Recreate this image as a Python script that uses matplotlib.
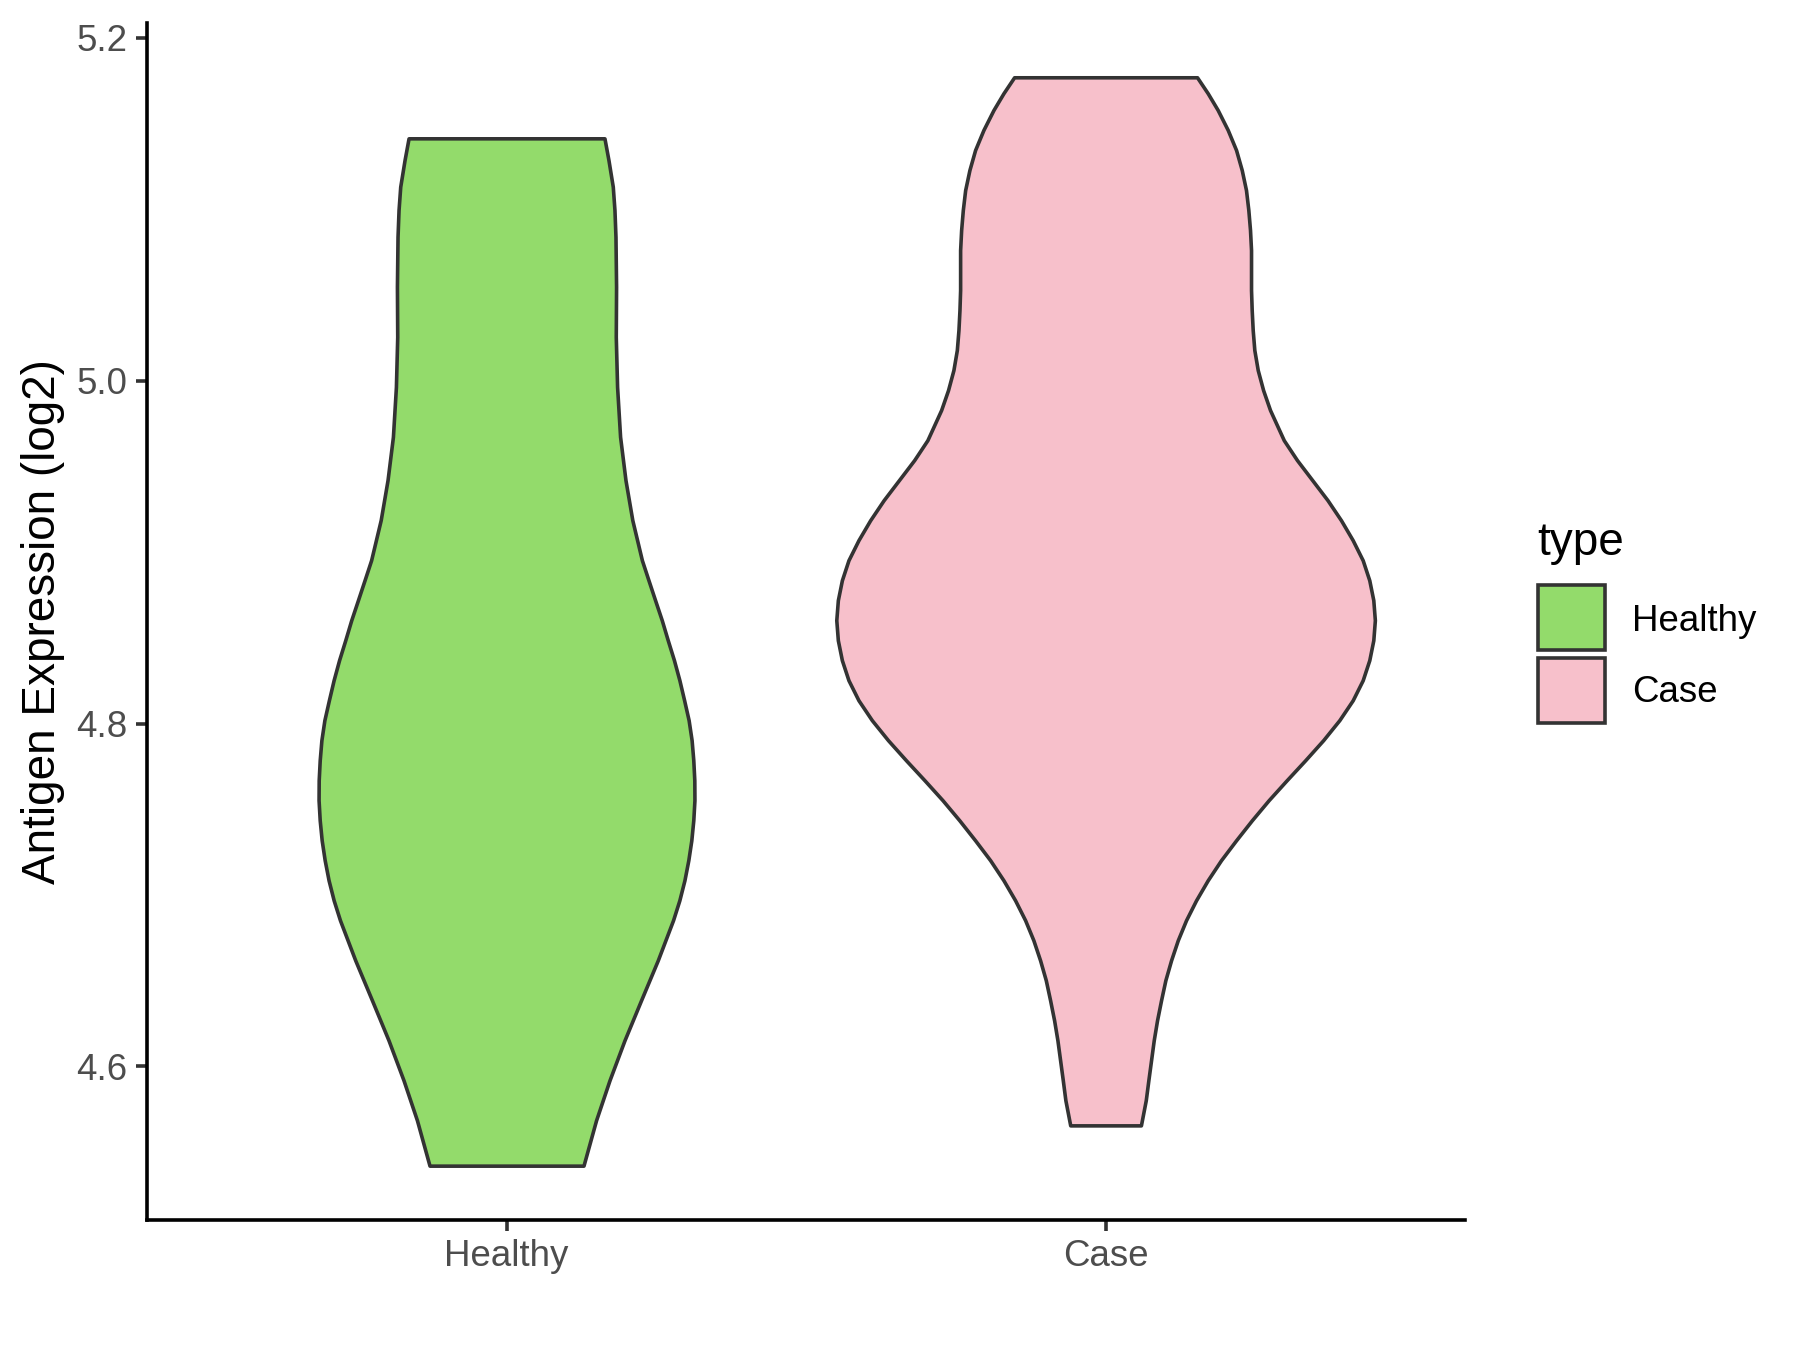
import matplotlib
matplotlib.use("Agg")
import matplotlib.pyplot as plt
from matplotlib.patches import Rectangle

plt.rcParams["font.family"] = ["Liberation Sans", "DejaVu Sans"]

groups = ["Healthy", "Case"]
colors = ["#93DB6B", "#F7C0CB"]

# violin outline: y value and half width (x units)
healthy_y = [5.1414, 5.1287, 5.1132, 5.0996, 5.0840, 5.0548, 5.0256, 4.9964,
             4.9673, 4.9420, 4.9187, 4.8953, 4.8836, 4.8720, 4.8603, 4.8486,
             4.8370, 4.8253, 4.8136, 4.8020, 4.7903, 4.7786, 4.7669, 4.7553,
             4.7436, 4.7319, 4.7203, 4.7086, 4.6969, 4.6853, 4.6619, 4.6386,
             4.6152, 4.5919, 4.5686, 4.5421]
healthy_hw = [0.1635, 0.1702, 0.1774, 0.1802, 0.1819, 0.1829, 0.1824, 0.1846,
              0.1896, 0.1986, 0.2100, 0.2260, 0.2370, 0.2480, 0.2592, 0.2692,
              0.2795, 0.2886, 0.2965, 0.3040, 0.3090, 0.3118, 0.3135, 0.3137,
              0.3118, 0.3085, 0.3035, 0.2970, 0.2885, 0.2780, 0.2525, 0.2246,
              0.1969, 0.1719, 0.1495, 0.1285]

case_y = [5.1770, 5.1677, 5.1579, 5.1463, 5.1346, 5.1229, 5.1112, 5.0996,
          5.0879, 5.0762, 5.0645, 5.0529, 5.0412, 5.0295, 5.0179, 5.0062,
          4.9945, 4.9829, 4.9653, 4.9537, 4.9420, 4.9303, 4.9186, 4.9070,
          4.8953, 4.8836, 4.8720, 4.8603, 4.8486, 4.8370, 4.8253, 4.8136,
          4.8020, 4.7903, 4.7786, 4.7669, 4.7553, 4.7436, 4.7319, 4.7203,
          4.7086, 4.6969, 4.6853, 4.6736, 4.6619, 4.6503, 4.6386, 4.6269,
          4.6153, 4.6036, 4.5919, 4.5803, 4.5656]
case_hw = [0.1527, 0.1705, 0.1872, 0.2039, 0.2178, 0.2273, 0.2344, 0.2383,
           0.2411, 0.2428, 0.2428, 0.2428, 0.2439, 0.2456, 0.2483, 0.2540,
           0.2630, 0.2745, 0.2975, 0.3195, 0.3450, 0.3705, 0.3930, 0.4125,
           0.4292, 0.4402, 0.4469, 0.4495, 0.4469, 0.4402, 0.4292, 0.4125,
           0.3902, 0.3632, 0.3332, 0.3022, 0.2722, 0.2442, 0.2178, 0.1927,
           0.1705, 0.1510, 0.1343, 0.1205, 0.1093, 0.0998, 0.0926, 0.0859,
           0.0804, 0.0759, 0.0714, 0.0671, 0.0590]

yticks = [4.6, 4.8, 5.0, 5.2]

edge = "#333333"
lw = 2.6
W, H = 1800, 1350

fig = plt.figure(figsize=(18, 13.5), dpi=100)
ax = fig.add_axes([0.0817, 0.0963, 0.7322, 0.8867])

profiles = [(healthy_y, healthy_hw), (case_y, case_hw)]
for i, (ys, hws) in enumerate(profiles):
    pos = i + 1
    left = [pos - h for h in hws]
    right = [pos + h for h in hws]
    ax.fill_betweenx(ys, left, right, facecolor=colors[i], edgecolor=edge,
                     linewidth=lw, joinstyle="round", zorder=2)

ax.set_xlim(0.4, 2.6)
ax.set_ylim(4.5104, 5.2087)
ax.set_xticks([1, 2])
ax.set_xticklabels(groups)
ax.set_yticks(yticks)
ax.set_yticklabels([f"{v:.1f}" for v in yticks])

for s in ["top", "right"]:
    ax.spines[s].set_visible(False)
for s in ["left", "bottom"]:
    ax.spines[s].set_linewidth(lw)
    ax.spines[s].set_color("black")

ax.tick_params(axis="both", length=8, width=lw, color="#333333",
               labelsize=26.4, labelcolor="#4D4D4D", pad=6)
ax.set_ylabel("Antigen Expression (log2)", fontsize=33, color="black", labelpad=8)

# legend, ggplot style: title on top, square keys stacked
fig.text(1537 / W, 1 - 555 / H, "type", fontsize=33, color="black",
         ha="left", va="baseline")
key_tops = [585, 657.5]
key_base = [630.7, 701.7]
for c, g, top, base in zip(colors, groups, key_tops, key_base):
    fig.add_artist(Rectangle((1538 / W, 1 - (top + 65) / H), 66.5 / W, 65 / H,
                             transform=fig.transFigure, facecolor=c,
                             edgecolor=edge, linewidth=lw, joinstyle="miter"))
    fig.text(1632 / W, 1 - base / H, g, fontsize=26.4, color="black",
             ha="left", va="baseline")

fig.savefig("out.png", dpi=100)
